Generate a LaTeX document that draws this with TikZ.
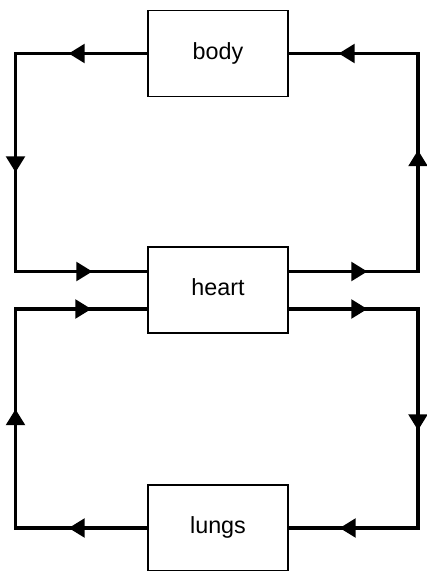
\documentclass[tikz,border=0pt]{standalone}
\usepackage{fontspec}
\setmainfont{Liberation Sans}
\usetikzlibrary{arrows.meta,calc,decorations.markings}
\tikzset{
  organ/.style={draw, line width=1pt, minimum width=105pt, minimum height=64.5pt,
                inner sep=0pt, font=\fontsize{17.5}{20}\selectfont,
                text height=12.6pt, text depth=3.7pt},
  vessel/.style={line width=2.5pt, line join=miter, postaction={decorate, decoration={markings,
      mark=at position 59pt with {\arrow{Triangle[length=12pt, width=14pt]}},
      mark=at position 188pt with {\arrow{Triangle[length=12pt, width=14pt]}},
      mark=at position 320pt with {\arrow{Triangle[length=12pt, width=14pt]}}}}},
}

\begin{document}
\begin{tikzpicture}[x=0.75pt, y=-0.75pt]
    \useasboundingbox (0,0) rectangle (427,571);
    % organs
    \node[organ] (body) at (218,53.5) {body};
    \node[organ] (heart) at (218,290) {heart};
    \node[organ] (lungs) at (218,528) {lungs};
    % corners of the two loops
    \coordinate (c1) at (15.5,53.5);
    \coordinate (c2) at (15.5,271.5);
    \coordinate (c3) at (418,271.5);
    \coordinate (c4) at (418,53.5);
    \coordinate (c5) at (15.5,309);
    \coordinate (c6) at (15.5,528);
    \coordinate (c7) at (418,309);
    \coordinate (c8) at (418,528);
    % systemic loop
    \draw[vessel] (body.west) -- (c1) -- (c2) -- (c2 -| heart.west);
    \draw[vessel] (c3 -| heart.east) -- (c3) -- (c4) -- (body.east);
    % pulmonary loop
    \draw[vessel] (lungs.west) -- (c6) -- (c5) -- (c5 -| heart.west);
    \draw[vessel] (c7 -| heart.east) -- (c7) -- (c8) -- (lungs.east);
\end{tikzpicture}
\end{document}
